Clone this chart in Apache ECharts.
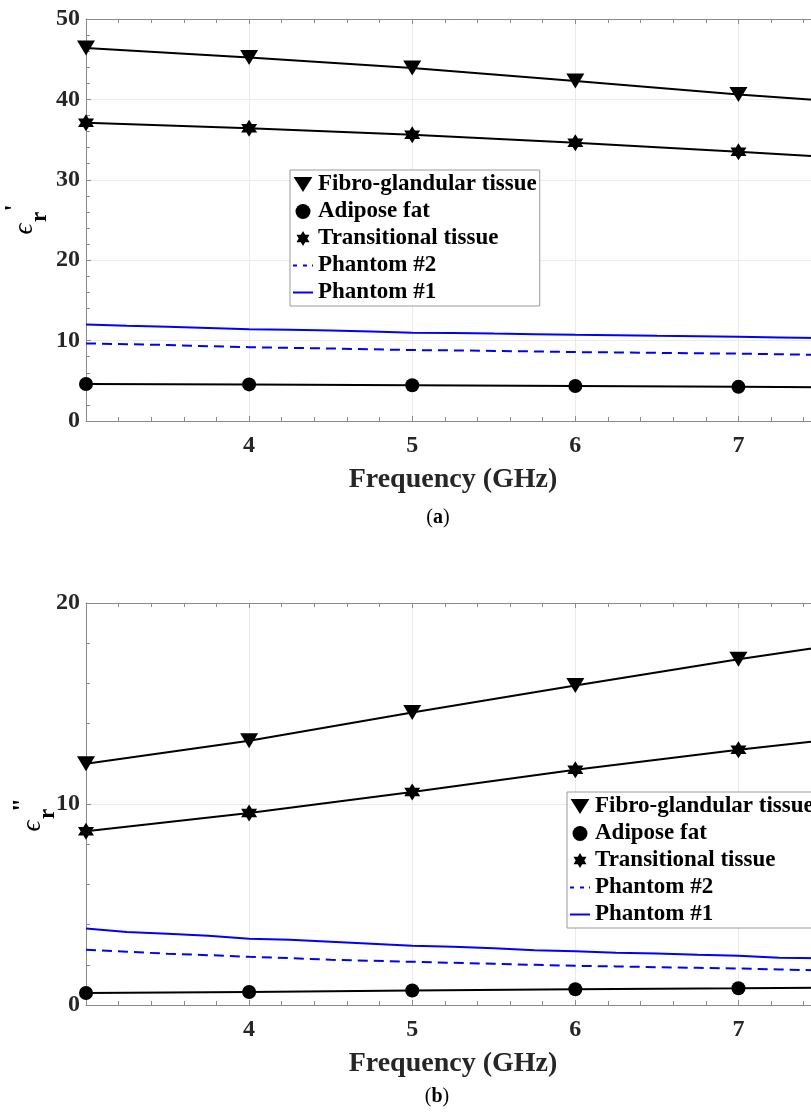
<!DOCTYPE html>
<html>
<head>
<meta charset="utf-8">
<script src="https://cdn.jsdelivr.net/npm/echarts@6/dist/echarts.min.js"></script>
<style>
  html, body { margin: 0; padding: 0; background: #fff; overflow: hidden; }
  #chart { width: 870px; height: 1112px; }
</style>
</head>
<body>
<div id="chart"></div>
<script>
// Frequencies (GHz) of the tissue model points and of the phantom measurements
const freqTissue = [3, 4, 5, 6, 7, 7.5];
const freqPhantom = [3, 3.25, 3.5, 3.75, 4, 4.25, 4.5, 4.75, 5, 5.25, 5.5, 5.75, 6, 6.25, 6.5, 6.75, 7, 7.25, 7.5];

// (a) relative permittivity, real part
const fibroReal = [46.4, 45.2, 43.9, 42.3, 40.6, 39.9];
const adiposeReal = [4.6, 4.55, 4.45, 4.35, 4.25, 4.2];
const transitionalReal = [37.1, 36.4, 35.6, 34.6, 33.5, 32.9];
const phantom2Real = [9.65, 9.55, 9.45, 9.3, 9.18, 9.1, 9.02, 8.92, 8.82, 8.78, 8.72, 8.65, 8.57, 8.53, 8.48, 8.42, 8.38, 8.3, 8.22];
const phantom1Real = [12.0, 11.85, 11.72, 11.58, 11.42, 11.35, 11.25, 11.12, 10.98, 10.95, 10.87, 10.8, 10.72, 10.68, 10.6, 10.55, 10.48, 10.4, 10.32];

// (b) relative permittivity, imaginary part
const fibroImag = [12.0, 13.15, 14.55, 15.9, 17.2, 17.8];
const adiposeImag = [0.6, 0.65, 0.72, 0.78, 0.83, 0.86];
const transitionalImag = [8.65, 9.55, 10.6, 11.7, 12.7, 13.15];
const phantom2Imag = [2.75, 2.65, 2.55, 2.48, 2.4, 2.33, 2.25, 2.2, 2.15, 2.1, 2.05, 2.0, 1.95, 1.92, 1.88, 1.85, 1.82, 1.77, 1.72];
const phantom1Imag = [3.8, 3.63, 3.55, 3.45, 3.3, 3.25, 3.15, 3.05, 2.95, 2.9, 2.82, 2.73, 2.68, 2.6, 2.56, 2.5, 2.45, 2.35, 2.33];

const seriesNames = ['Fibro-glandular tissue', 'Adipose fat', 'Transitional tissue', 'Phantom #2', 'Phantom #1'];
const xTickValues = [4, 5, 6, 7];
const xMin = 3, xMax = 7.5;

const FONT = '"Liberation Serif", "Times New Roman", serif';
const TEXT = '#262626';
const AXIS = '#8a8a8a';
const GRIDC = '#ebebeb';

const TRI_DOWN = 'path://M0,0L20,0L10,16Z';
const HEXAGRAM = 'path://M0,-10L8.66,5L-8.66,5Z M0,10L-8.66,-5L8.66,-5Z';
const LEG_SOLID = 'path://M0,0h20v2h-20z';
const LEG_DASH = 'path://M0,0h4v2h-4z M10,0h4v2h-4z M19,0h1v2h-1z';

const chart = echarts.init(document.getElementById('chart'), null, { renderer: 'canvas' });

// marker points; the last point only carries the line to the end of the axis
function tissueData(values) {
  return freqTissue.map((f, i) => i === freqTissue.length - 1
    ? { value: [f, values[i]], symbol: 'none' }
    : [f, values[i]]);
}
function phantomData(values) {
  return freqPhantom.map((f, i) => [f, values[i]]);
}

const grids = [
  { left: 86, top: 19, width: 734, height: 402 },
  { left: 86, top: 603, width: 734, height: 402 }
];

function bottomX(gi) {
  return {
    type: 'value', gridIndex: gi, position: 'bottom', min: xMin, max: xMax, interval: 1,
    axisLine: { show: true, onZero: false, lineStyle: { color: AXIS, width: 1 } },
    axisTick: { show: true, inside: true, length: 5, lineStyle: { color: AXIS } },
    minorTick: { show: true, splitNumber: 5, length: 4, lineStyle: { color: AXIS } },
    splitLine: { show: true, lineStyle: { color: GRIDC, width: 1 } },
    axisLabel: {
      margin: 13, color: TEXT, fontFamily: FONT, fontWeight: 'bold', fontSize: 24,
      formatter: v => xTickValues.indexOf(v) >= 0 ? String(v) : ''
    },
    name: 'Frequency (GHz)', nameLocation: 'middle', nameGap: 45,
    nameTextStyle: { color: TEXT, fontFamily: FONT, fontWeight: 'bold', fontSize: 28 }
  };
}
function topX(gi) {
  return {
    type: 'value', gridIndex: gi, position: 'top', min: xMin, max: xMax, interval: 1,
    axisLine: { show: true, onZero: false, lineStyle: { color: AXIS, width: 1 } },
    axisTick: { show: true, inside: true, length: 5, lineStyle: { color: AXIS } },
    minorTick: { show: true, splitNumber: 5, length: 4, lineStyle: { color: AXIS } },
    splitLine: { show: false }, axisLabel: { show: false }
  };
}
function leftY(gi, max) {
  return {
    type: 'value', gridIndex: gi, position: 'left', min: 0, max: max, interval: 10,
    axisLine: { show: true, onZero: false, lineStyle: { color: AXIS, width: 1 } },
    axisTick: { show: true, inside: true, length: 5, lineStyle: { color: AXIS } },
    minorTick: { show: true, splitNumber: 5, length: 4, lineStyle: { color: AXIS } },
    splitLine: { show: true, lineStyle: { color: GRIDC, width: 1 } },
    axisLabel: { margin: 6, color: TEXT, fontFamily: FONT, fontWeight: 'bold', fontSize: 24 }
  };
}
function rightY(gi, max) {
  return {
    type: 'value', gridIndex: gi, position: 'right', min: 0, max: max, interval: 10,
    axisLine: { show: true, onZero: false, lineStyle: { color: AXIS, width: 1 } },
    axisTick: { show: true, inside: true, length: 5, lineStyle: { color: AXIS } },
    minorTick: { show: true, splitNumber: 5, length: 4, lineStyle: { color: AXIS } },
    splitLine: { show: false }, axisLabel: { show: false }
  };
}

function panelSeries(xi, yi, fibro, adipose, trans, ph2, ph1) {
  const black = '#000000', blue = '#0000ff';
  return [
    { name: seriesNames[0], type: 'line', xAxisIndex: xi, yAxisIndex: yi, data: tissueData(fibro),
      symbol: 'triangle', symbolRotate: 180, symbolSize: [18, 15], showAllSymbol: true,
      color: black, lineStyle: { color: black, width: 2 }, itemStyle: { color: black }, z: 4 },
    { name: seriesNames[1], type: 'line', xAxisIndex: xi, yAxisIndex: yi, data: tissueData(adipose),
      symbol: 'circle', symbolSize: 14, showAllSymbol: true,
      color: black, lineStyle: { color: black, width: 2 }, itemStyle: { color: black }, z: 4 },
    { name: seriesNames[2], type: 'line', xAxisIndex: xi, yAxisIndex: yi, data: tissueData(trans),
      symbol: HEXAGRAM, symbolSize: [16, 17], showAllSymbol: true,
      color: black, lineStyle: { color: black, width: 2 }, itemStyle: { color: black }, z: 4 },
    { name: seriesNames[3], type: 'line', xAxisIndex: xi, yAxisIndex: yi, data: phantomData(ph2),
      symbol: 'none', color: blue, lineStyle: { color: blue, width: 2, type: [10, 6] }, z: 3 },
    { name: seriesNames[4], type: 'line', xAxisIndex: xi, yAxisIndex: yi, data: phantomData(ph1),
      symbol: 'none', color: blue, lineStyle: { color: blue, width: 2 }, z: 3 }
  ];
}

function legendAt(left, top) {
  return {
    orient: 'vertical', left: left, top: top,
    itemWidth: 20, itemHeight: 15, itemGap: 0,
    padding: [1, 3, 0, 3],
    backgroundColor: '#ffffff', borderColor: '#9a9a9a', borderWidth: 1,
    symbolKeepAspect: true, selectedMode: false,
    textStyle: { color: '#000', fontFamily: FONT, fontWeight: 'bold', fontSize: 23, lineHeight: 27 },
    data: [
      { name: seriesNames[0], icon: TRI_DOWN },
      { name: seriesNames[1], icon: 'circle' },
      { name: seriesNames[2], icon: HEXAGRAM },
      { name: seriesNames[3], icon: LEG_DASH },
      { name: seriesNames[4], icon: LEG_SOLID }
    ],
    z: 10
  };
}

// rotated y-axis titles built from separate glyphs: epsilon, subscript r, prime marks
function yTitle(cx, cy, primes) {
  return [
    { type: 'text', x: cx - 2, y: cy + 9, rotation: Math.PI / 2,
      style: { text: '\u03F5', font: 'italic 27px ' + FONT, fill: '#000', align: 'center', verticalAlign: 'middle' } },
    { type: 'text', x: cx + 13, y: cy - 3, rotation: Math.PI / 2,
      style: { text: 'r', font: 'bold 23px ' + FONT, fill: '#000', align: 'center', verticalAlign: 'middle' } },
    { type: 'text', x: cx - 12, y: cy - 12, rotation: Math.PI / 2,
      style: { text: primes, font: 'bold 26px ' + FONT, fill: '#000', align: 'center', verticalAlign: 'middle' } }
  ];
}
function caption(cx, cy, letter) {
  return {
    type: 'text', x: cx, y: cy,
    style: {
      text: '{p|(}{b|' + letter + '}{p|)}',
      align: 'center', verticalAlign: 'middle',
      rich: {
        p: { fontFamily: FONT, fontSize: 20, fill: '#000', color: '#000' },
        b: { fontFamily: FONT, fontSize: 20, fontWeight: 'bold', fill: '#000', color: '#000' }
      }
    }
  };
}

const option = {
  backgroundColor: '#ffffff',
  animation: false,
  grid: grids,
  xAxis: [bottomX(0), topX(0), bottomX(1), topX(1)],
  yAxis: [leftY(0, 50), rightY(0, 50), leftY(1, 20), rightY(1, 20)],
  legend: [legendAt(290, 170), legendAt(567, 792)],
  series: [].concat(
    panelSeries(0, 0, fibroReal, adiposeReal, transitionalReal, phantom2Real, phantom1Real),
    panelSeries(2, 2, fibroImag, adiposeImag, transitionalImag, phantom2Imag, phantom1Imag)
  ),
  graphic: [].concat(
    yTitle(27, 220, "'"),
    yTitle(35, 817, '"'),
    [caption(438, 518, 'a'), caption(437, 1097, 'b')]
  )
};

chart.setOption(option);
</script>
</body>
</html>
